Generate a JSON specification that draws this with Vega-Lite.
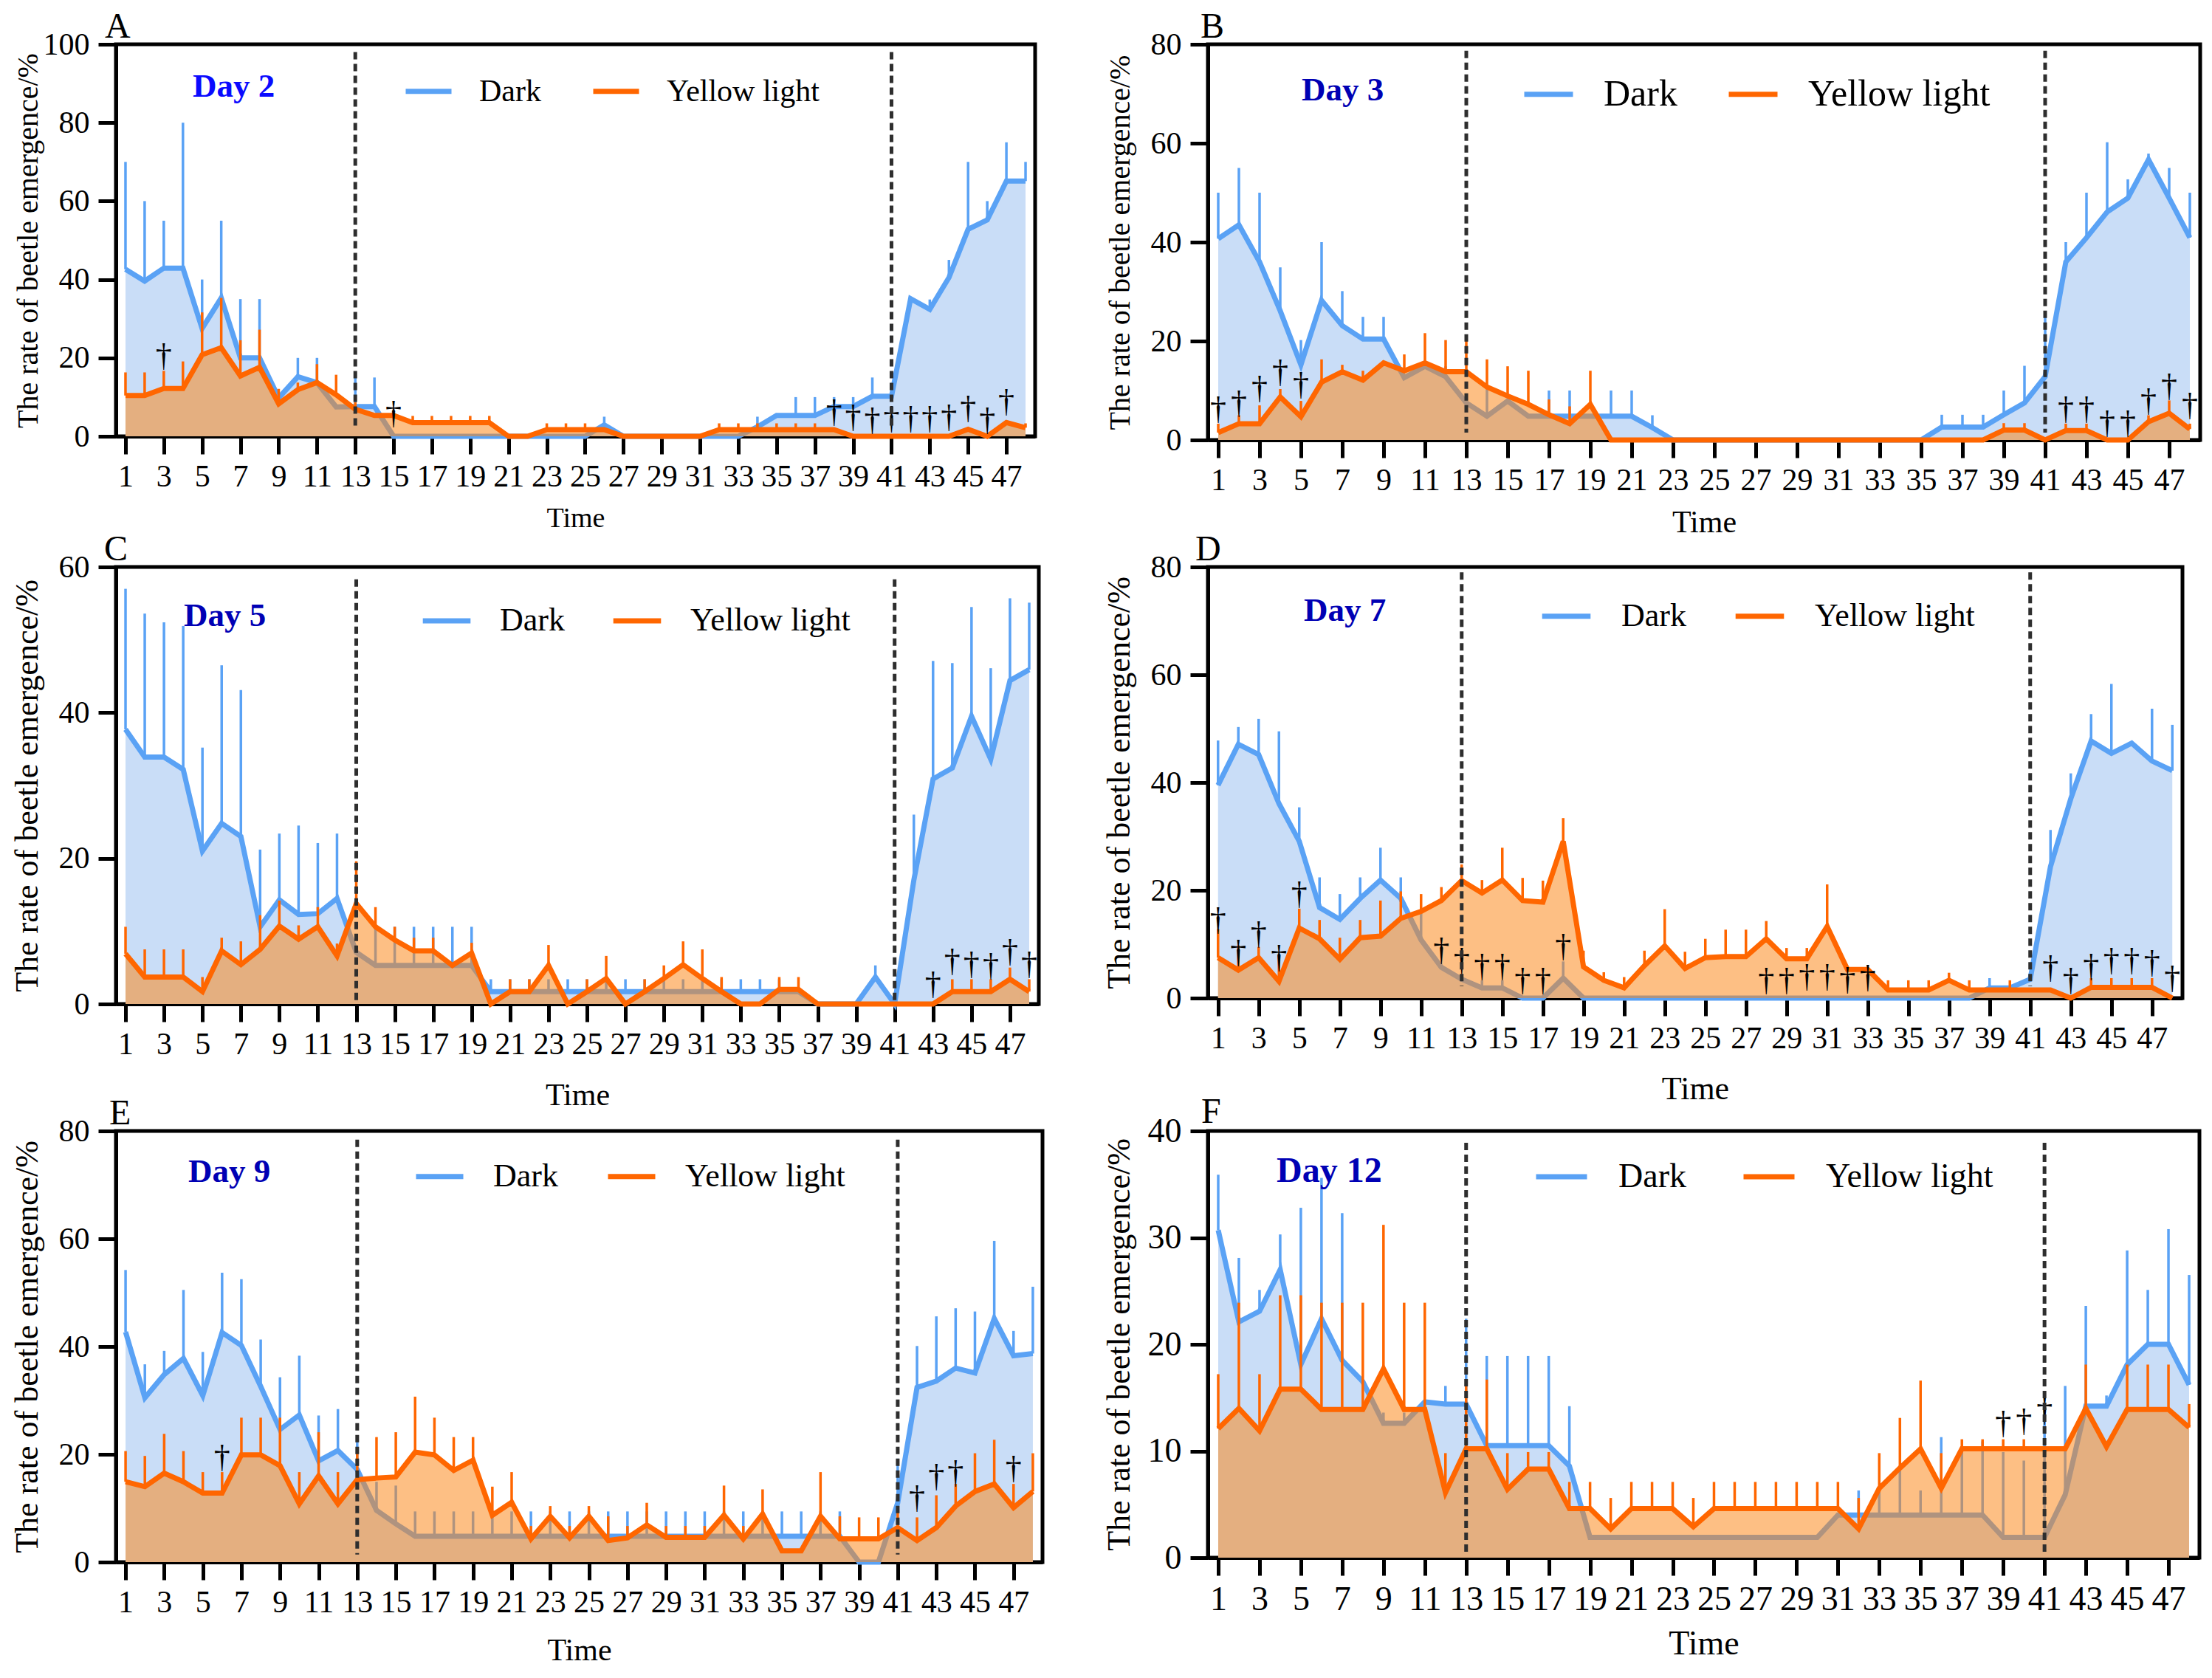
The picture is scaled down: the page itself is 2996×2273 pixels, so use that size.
{
  "$schema": "https://vega.github.io/schema/vega-lite/v6.json",
  "background": "white",
  "padding": {"left": 12, "top": 10, "right": 5, "bottom": 0},
  "config": {
    "font": "Liberation Serif",
    "view": {"stroke": "black", "strokeWidth": 5},
    "axis": {"domainColor": "black", "domainWidth": 5, "tickColor": "black", "tickWidth": 5, "tickSize": 24, "labelFont": "Liberation Serif", "labelFontSize": 42, "labelColor": "black", "titleFont": "Liberation Serif", "titleFontWeight": "normal", "titleColor": "black", "grid": false, "labelFlush": false, "labelOverlap": false},
    "axisX": {"labelPadding": 10, "titleBaseline": "alphabetic", "titleFontSize": 42},
    "axisY": {"labelPadding": 12, "titleX": -107, "titleAngle": 270, "titleAlign": "center", "titleBaseline": "alphabetic", "titleFontSize": 44},
    "legend": {"orient": "none", "direction": "horizontal", "titleOrient": "left", "titleFont": "Liberation Serif", "titleFontWeight": "bold", "titleFontSize": 45, "titleColor": "#0000b4", "titleBaseline": "middle", "titleAnchor": "middle", "titleLimit": 0, "symbolType": "stroke", "symbolStrokeWidth": 7, "labelFont": "Liberation Serif", "labelColor": "black", "labelLimit": 0, "labelBaseline": "middle", "padding": 0},
    "title": {"anchor": "start", "frame": "group", "offset": -22, "baseline": "alphabetic", "fontSize": 48, "font": "Liberation Serif", "fontWeight": "normal", "color": "black"}
  },
  "datasets": {
    "A": [
      {"t":1,"d":42.6,"de":70,"y":10.4,"ye":16.3},{"t":2,"d":39.6,"de":60,"y":10.4,"ye":16.3},{"t":3,"d":42.9,"de":55,"y":12.2,"ye":16.7},{"t":4,"d":42.9,"de":80,"y":12.2,"ye":19.1},
      {"t":5,"d":27.5,"de":40,"y":20.8,"ye":31.6},{"t":6,"d":35.3,"de":55,"y":22.6,"ye":35.3},{"t":7,"d":20,"de":35,"y":15.4,"ye":24.5},{"t":8,"d":20,"de":35,"y":17.6,"ye":27.2},
      {"t":9,"d":9.8,"de":null,"y":8.3,"ye":12.1},{"t":10,"d":15.2,"de":20,"y":11.9,"ye":13.7},{"t":11,"d":13.7,"de":20,"y":13.7,"ye":18.4},{"t":12,"d":7.5,"de":null,"y":10.6,"ye":15.7},
      {"t":13,"d":7.6,"de":15,"y":6.9,"ye":8.7},{"t":14,"d":7.6,"de":15,"y":5.3,"ye":null},{"t":15,"d":0,"de":null,"y":5.3,"ye":null},{"t":16,"d":0,"de":null,"y":3.5,"ye":5.2},
      {"t":17,"d":0,"de":null,"y":3.5,"ye":5.2},{"t":18,"d":0,"de":null,"y":3.5,"ye":5.2},{"t":19,"d":0,"de":null,"y":3.5,"ye":5.2},{"t":20,"d":0,"de":null,"y":3.5,"ye":5.2},
      {"t":21,"d":0,"de":null,"y":0,"ye":null},{"t":22,"d":0,"de":null,"y":0,"ye":null},{"t":23,"d":0,"de":null,"y":1.7,"ye":3.3},{"t":24,"d":0,"de":null,"y":1.7,"ye":3.3},
      {"t":25,"d":0,"de":null,"y":1.7,"ye":3.3},{"t":26,"d":2.9,"de":5,"y":1.7,"ye":null},{"t":27,"d":0,"de":null,"y":0,"ye":null},{"t":28,"d":0,"de":null,"y":0,"ye":null},
      {"t":29,"d":0,"de":null,"y":0,"ye":null},{"t":30,"d":0,"de":null,"y":0,"ye":null},{"t":31,"d":0,"de":null,"y":0,"ye":null},{"t":32,"d":0,"de":null,"y":1.7,"ye":3.3},
      {"t":33,"d":0,"de":null,"y":1.7,"ye":3.3},{"t":34,"d":2.4,"de":5,"y":1.7,"ye":3.3},{"t":35,"d":5.3,"de":null,"y":1.7,"ye":3.3},{"t":36,"d":5.3,"de":10,"y":1.7,"ye":3.3},
      {"t":37,"d":5.3,"de":10,"y":1.7,"ye":3.3},{"t":38,"d":7.6,"de":10,"y":1.7,"ye":null},{"t":39,"d":7.6,"de":10,"y":0,"ye":null},{"t":40,"d":10.2,"de":15,"y":0,"ye":null},
      {"t":41,"d":10.2,"de":null,"y":0,"ye":null},{"t":42,"d":35.1,"de":null,"y":0,"ye":null},{"t":43,"d":32.4,"de":34.9,"y":0,"ye":null},{"t":44,"d":40.5,"de":45,"y":0,"ye":null},
      {"t":45,"d":52.8,"de":70,"y":1.8,"ye":null},{"t":46,"d":55.2,"de":60,"y":0,"ye":null},{"t":47,"d":65.1,"de":75,"y":3.5,"ye":null},{"t":48,"d":65.1,"de":70,"y":2.2,"ye":3.3}
    ],
    "Adag": [{"t":3,"h":16.7},{"t":15,"h":2},{"t":38,"h":2.4},{"t":39,"h":1.1},{"t":40,"h":0.3},{"t":41,"h":0.7},{"t":42,"h":0.7},{"t":43,"h":0.7},{"t":44,"h":1.1},{"t":45,"h":3.3},{"t":46,"h":0.3},{"t":47,"h":5}],
    "B": [
      {"t":1,"d":40.7,"de":50,"y":1.5,"ye":3.3},{"t":2,"d":43.5,"de":55,"y":3.3,"ye":5},{"t":3,"d":36,"de":50,"y":3.3,"ye":7},{"t":4,"d":26.1,"de":34.9,"y":8.7,"ye":10.3},
      {"t":5,"d":15.2,"de":20.2,"y":4.7,"ye":7.9},{"t":6,"d":28.2,"de":40,"y":11.7,"ye":16.3},{"t":7,"d":23.1,"de":30.1,"y":13.8,"ye":15.2},{"t":8,"d":20.4,"de":24.9,"y":12.1,"ye":14},
      {"t":9,"d":20.4,"de":24.9,"y":15.6,"ye":null},{"t":10,"d":12.6,"de":null,"y":14,"ye":17.3},{"t":11,"d":14.9,"de":null,"y":15.6,"ye":21.6},{"t":12,"d":12.8,"de":14.9,"y":13.8,"ye":20.2},
      {"t":13,"d":7.5,"de":null,"y":13.8,"ye":20.2},{"t":14,"d":4.8,"de":10.3,"y":10.7,"ye":16.3},{"t":15,"d":7.9,"de":null,"y":8.9,"ye":14.9},{"t":16,"d":4.8,"de":null,"y":7.2,"ye":14},
      {"t":17,"d":4.8,"de":10,"y":5.1,"ye":8.2},{"t":18,"d":4.8,"de":10,"y":3.3,"ye":6.8},{"t":19,"d":4.8,"de":null,"y":7.2,"ye":14},{"t":20,"d":4.8,"de":10,"y":0,"ye":null},
      {"t":21,"d":4.8,"de":10,"y":0,"ye":null},{"t":22,"d":2.5,"de":5,"y":0,"ye":null},{"t":23,"d":0,"de":null,"y":0,"ye":null},{"t":24,"d":0,"de":null,"y":0,"ye":null},
      {"t":25,"d":0,"de":null,"y":0,"ye":null},{"t":26,"d":0,"de":null,"y":0,"ye":null},{"t":27,"d":0,"de":null,"y":0,"ye":null},{"t":28,"d":0,"de":null,"y":0,"ye":null},
      {"t":29,"d":0,"de":null,"y":0,"ye":null},{"t":30,"d":0,"de":null,"y":0,"ye":null},{"t":31,"d":0,"de":null,"y":0,"ye":null},{"t":32,"d":0,"de":null,"y":0,"ye":null},
      {"t":33,"d":0,"de":null,"y":0,"ye":null},{"t":34,"d":0,"de":null,"y":0,"ye":null},{"t":35,"d":0,"de":null,"y":0,"ye":null},{"t":36,"d":2.6,"de":5.1,"y":0,"ye":null},
      {"t":37,"d":2.6,"de":5.1,"y":0,"ye":null},{"t":38,"d":2.6,"de":5.1,"y":0,"ye":null},{"t":39,"d":5.1,"de":10,"y":2,"ye":3.4},{"t":40,"d":7.5,"de":15,"y":2,"ye":3.4},
      {"t":41,"d":12.8,"de":25,"y":0,"ye":null},{"t":42,"d":36,"de":40,"y":1.9,"ye":3.3},{"t":43,"d":40.9,"de":50,"y":1.9,"ye":3.3},{"t":44,"d":46.1,"de":60.2,"y":0,"ye":null},
      {"t":45,"d":48.9,"de":52.7,"y":0,"ye":null},{"t":46,"d":56.7,"de":57.9,"y":3.7,"ye":5},{"t":47,"d":48.9,"de":55,"y":5.4,"ye":8},{"t":48,"d":40.9,"de":50,"y":2.2,"ye":3.3}
    ],
    "Bdag": [{"t":1,"h":3.3},{"t":2,"h":4.5},{"t":3,"h":7.5},{"t":4,"h":10.7},{"t":5,"h":8.2},{"t":42,"h":3.3},{"t":43,"h":3.3},{"t":44,"h":0.5},{"t":45,"h":0.5},{"t":46,"h":5},{"t":47,"h":7.9},{"t":48,"h":4.1}],
    "C": [
      {"t":1,"d":37.7,"de":57,"y":6.9,"ye":10.6},{"t":2,"d":33.9,"de":53.6,"y":3.7,"ye":7.5},{"t":3,"d":33.9,"de":52.4,"y":3.7,"ye":7.5},{"t":4,"d":32.2,"de":51.9,"y":3.7,"ye":7.5},
      {"t":5,"d":21,"de":35.2,"y":1.7,"ye":3.7},{"t":6,"d":24.8,"de":46.5,"y":7.3,"ye":9.1},{"t":7,"d":23,"de":43.1,"y":5.4,"ye":8.6},{"t":8,"d":10.6,"de":21.2,"y":7.5,"ye":12.2},
      {"t":9,"d":14.3,"de":23.4,"y":10.7,"ye":14.2},{"t":10,"d":12.3,"de":24.5,"y":8.9,"ye":10.8},{"t":11,"d":12.4,"de":22.1,"y":10.6,"ye":13.3},{"t":12,"d":14.5,"de":23.4,"y":6.6,"ye":8.3},
      {"t":13,"d":7.1,"de":null,"y":13.8,"ye":19.6},{"t":14,"d":5.3,"de":10.6,"y":10.6,"ye":13.3},{"t":15,"d":5.3,"de":10.6,"y":8.8,"ye":10.6},{"t":16,"d":5.3,"de":10.6,"y":7.3,"ye":9.1},
      {"t":17,"d":5.3,"de":10.6,"y":7.3,"ye":9.1},{"t":18,"d":5.3,"de":10.6,"y":5.3,"ye":null},{"t":19,"d":5.3,"de":10.6,"y":7,"ye":8.4},{"t":20,"d":1.7,"de":3.4,"y":0,"ye":null},
      {"t":21,"d":1.7,"de":3.4,"y":1.7,"ye":3.4},{"t":22,"d":1.7,"de":3.4,"y":1.7,"ye":3.4},{"t":23,"d":1.7,"de":3.4,"y":5.3,"ye":8.1},{"t":24,"d":1.7,"de":3.4,"y":0,"ye":null},
      {"t":25,"d":1.7,"de":3.4,"y":1.7,"ye":3.4},{"t":26,"d":1.7,"de":3.4,"y":3.5,"ye":6.6},{"t":27,"d":1.7,"de":3.4,"y":0,"ye":null},{"t":28,"d":1.7,"de":3.4,"y":1.7,"ye":3.4},
      {"t":29,"d":1.7,"de":3.4,"y":3.5,"ye":5.3},{"t":30,"d":1.7,"de":3.4,"y":5.4,"ye":8.6},{"t":31,"d":1.7,"de":3.4,"y":3.5,"ye":7.5},{"t":32,"d":1.7,"de":3.4,"y":1.7,"ye":3.7},
      {"t":33,"d":1.7,"de":3.4,"y":0,"ye":null},{"t":34,"d":1.7,"de":3.4,"y":0,"ye":null},{"t":35,"d":1.7,"de":3.4,"y":2,"ye":3.7},{"t":36,"d":1.7,"de":null,"y":2,"ye":3.7},
      {"t":37,"d":0,"de":null,"y":0,"ye":null},{"t":38,"d":0,"de":null,"y":0,"ye":null},{"t":39,"d":0,"de":null,"y":0,"ye":null},{"t":40,"d":3.7,"de":5.3,"y":0,"ye":null},
      {"t":41,"d":0,"de":null,"y":0,"ye":null},{"t":42,"d":17,"de":26,"y":0,"ye":null},{"t":43,"d":30.9,"de":47.1,"y":0,"ye":null},{"t":44,"d":32.4,"de":46.8,"y":1.7,"ye":3.4},
      {"t":45,"d":39.5,"de":54.5,"y":1.7,"ye":3.4},{"t":46,"d":33.6,"de":46.1,"y":1.7,"ye":3.4},{"t":47,"d":44.4,"de":55.7,"y":3.4,"ye":5},{"t":48,"d":45.9,"de":55.1,"y":1.7,"ye":3.4}
    ],
    "Cdag": [{"t":43,"h":0.7},{"t":44,"h":3.9},{"t":45,"h":3.4},{"t":46,"h":3.2},{"t":47,"h":5.2},{"t":48,"h":3.4}],
    "D": [
      {"t":1,"d":39.5,"de":47.8,"y":7.5,"ye":12.8},{"t":2,"d":47.1,"de":50.3,"y":5.2,"ye":9.8},{"t":3,"d":45.2,"de":51.8,"y":7.5,"ye":9.5},{"t":4,"d":36.1,"de":49.5,"y":3.1,"ye":7.8},
      {"t":5,"d":29.1,"de":35.4,"y":13,"ye":16.6},{"t":6,"d":16.8,"de":22.4,"y":11,"ye":14.5},{"t":7,"d":14.6,"de":19.3,"y":7.2,"ye":11.2},{"t":8,"d":18.5,"de":22.4,"y":11.2,"ye":14.5},
      {"t":9,"d":21.9,"de":27.9,"y":11.5,"ye":18.1},{"t":10,"d":18.5,"de":22.4,"y":14.8,"ye":19.8},{"t":11,"d":10.8,"de":15.8,"y":16.1,"ye":19.3},{"t":12,"d":5.7,"de":null,"y":18.1,"ye":20.6},
      {"t":13,"d":3.5,"de":null,"y":21.8,"ye":24.8},{"t":14,"d":1.9,"de":3.3,"y":19.5,"ye":21.9},{"t":15,"d":1.9,"de":3.3,"y":21.9,"ye":27.9},{"t":16,"d":0,"de":null,"y":18.1,"ye":22.3},
      {"t":17,"d":0,"de":null,"y":17.8,"ye":21.8},{"t":18,"d":3.7,"de":6.8,"y":29.1,"ye":33.4},{"t":19,"d":0,"de":null,"y":5.8,"ye":8.8},{"t":20,"d":0,"de":null,"y":3.3,"ye":4.8},
      {"t":21,"d":0,"de":null,"y":1.9,"ye":3.9},{"t":22,"d":0,"de":null,"y":6,"ye":8.8},{"t":23,"d":0,"de":null,"y":9.7,"ye":16.5},{"t":24,"d":0,"de":null,"y":5.5,"ye":8.6},
      {"t":25,"d":0,"de":null,"y":7.5,"ye":11},{"t":26,"d":0,"de":null,"y":7.7,"ye":12.7},{"t":27,"d":0,"de":null,"y":7.7,"ye":12.7},{"t":28,"d":0,"de":null,"y":11,"ye":14.3},
      {"t":29,"d":0,"de":null,"y":7.3,"ye":9.3},{"t":30,"d":0,"de":null,"y":7.3,"ye":9.3},{"t":31,"d":0,"de":null,"y":13.3,"ye":21.1},{"t":32,"d":0,"de":null,"y":5.3,"ye":null},
      {"t":33,"d":0,"de":null,"y":5.3,"ye":null},{"t":34,"d":0,"de":null,"y":1.5,"ye":3.3},{"t":35,"d":0,"de":null,"y":1.5,"ye":3.3},{"t":36,"d":0,"de":null,"y":1.5,"ye":3.3},
      {"t":37,"d":0,"de":null,"y":3.3,"ye":4.7},{"t":38,"d":0,"de":null,"y":1.5,"ye":3.3},{"t":39,"d":1.9,"de":3.7,"y":1.5,"ye":null},{"t":40,"d":1.9,"de":null,"y":1.5,"ye":3.3},
      {"t":41,"d":3.5,"de":null,"y":1.5,"ye":null},{"t":42,"d":24.4,"de":31.2,"y":1.5,"ye":null},{"t":43,"d":37,"de":41.7,"y":0,"ye":null},{"t":44,"d":47.7,"de":52.7,"y":2,"ye":3.7},
      {"t":45,"d":45.4,"de":58.3,"y":2,"ye":3.7},{"t":46,"d":47.3,"de":null,"y":2,"ye":3.7},{"t":47,"d":44,"de":53.7,"y":2,"ye":3.7},{"t":48,"d":42.2,"de":50.7,"y":0,"ye":null}
    ],
    "Ddag": [{"t":1,"h":11.8},{"t":2,"h":5.8},{"t":3,"h":9.2},{"t":4,"h":4.8},{"t":5,"h":16.6},{"t":12,"h":6.2},{"t":13,"h":4.2},{"t":14,"h":3.1},{"t":15,"h":3.1},{"t":16,"h":0.5},{"t":17,"h":0.5},{"t":18,"h":6.8},{"t":28,"h":0.5},{"t":29,"h":0.5},{"t":30,"h":1.2},{"t":31,"h":1.2},{"t":32,"h":0.7},{"t":33,"h":1.1},{"t":42,"h":2.9},{"t":43,"h":0.5},{"t":44,"h":3.2},{"t":45,"h":4.2},{"t":46,"h":4.2},{"t":47,"h":3.9},{"t":48,"h":0.9}],
    "E": [
      {"t":1,"d":42.7,"de":54.2,"y":14.9,"ye":20.6},{"t":2,"d":30.5,"de":36.7,"y":14,"ye":19.7},{"t":3,"d":34.8,"de":39.2,"y":16.5,"ye":23.8},{"t":4,"d":37.8,"de":50.5,"y":14.9,"ye":20.6},
      {"t":5,"d":30.9,"de":39,"y":12.8,"ye":16.7},{"t":6,"d":42.6,"de":53.7,"y":12.8,"ye":16.7},{"t":7,"d":40.2,"de":52.5,"y":19.9,"ye":26.8},{"t":8,"d":32.6,"de":41.3,"y":19.9,"ye":26.8},
      {"t":9,"d":24.6,"de":34.3,"y":17.9,"ye":26.8},{"t":10,"d":27.3,"de":38.3,"y":10.8,"ye":16.7},{"t":11,"d":18.8,"de":27.2,"y":16,"ye":24.1},{"t":12,"d":20.7,"de":28.4,"y":10.8,"ye":16.7},
      {"t":13,"d":17.2,"de":22.5,"y":15.3,"ye":20.2},{"t":14,"d":9.6,"de":14.9,"y":15.6,"ye":23.2},{"t":15,"d":7.1,"de":14.2,"y":15.8,"ye":24.1},{"t":16,"d":4.8,"de":9.4,"y":20.4,"ye":30.7},
      {"t":17,"d":4.8,"de":9.4,"y":19.9,"ye":26.8},{"t":18,"d":4.8,"de":9.4,"y":17,"ye":23.2},{"t":19,"d":4.8,"de":9.4,"y":18.9,"ye":23.2},{"t":20,"d":4.8,"de":9.4,"y":8.7,"ye":14},
      {"t":21,"d":4.8,"de":9.4,"y":11.1,"ye":16.7},{"t":22,"d":4.8,"de":9.4,"y":4.3,"ye":6.7},{"t":23,"d":4.8,"de":9.4,"y":8.5,"ye":10.4},{"t":24,"d":4.8,"de":9.4,"y":4.5,"ye":6.7},
      {"t":25,"d":4.8,"de":9.4,"y":8.5,"ye":10.4},{"t":26,"d":4.8,"de":9.4,"y":4,"ye":8.5},{"t":27,"d":4.8,"de":9.4,"y":4.5,"ye":6.7},{"t":28,"d":4.8,"de":9.4,"y":6.9,"ye":11},
      {"t":29,"d":4.8,"de":9.4,"y":4.6,"ye":6.7},{"t":30,"d":4.8,"de":9.4,"y":4.6,"ye":6.7},{"t":31,"d":4.8,"de":9.4,"y":4.6,"ye":6.7},{"t":32,"d":4.8,"de":9.4,"y":8.7,"ye":14.2},
      {"t":33,"d":4.8,"de":9.4,"y":4.3,"ye":6.7},{"t":34,"d":4.8,"de":9.4,"y":8.9,"ye":13.5},{"t":35,"d":4.8,"de":9.4,"y":2.1,"ye":null},{"t":36,"d":4.8,"de":9.4,"y":2.1,"ye":null},
      {"t":37,"d":4.8,"de":9.4,"y":8.5,"ye":16.7},{"t":38,"d":4.8,"de":9.4,"y":4.3,"ye":8.5},{"t":39,"d":0,"de":null,"y":4.3,"ye":8.3},{"t":40,"d":0,"de":null,"y":4.3,"ye":8.3},
      {"t":41,"d":11,"de":19.2,"y":6.4,"ye":10},{"t":42,"d":32.4,"de":40.1,"y":4,"ye":8.3},{"t":43,"d":33.6,"de":45.6,"y":6.4,"ye":12.4},{"t":44,"d":36,"de":47.1,"y":10.4,"ye":14.5},
      {"t":45,"d":35.1,"de":46.5,"y":13.1,"ye":20.2},{"t":46,"d":45.2,"de":59.6,"y":14.5,"ye":22.7},{"t":47,"d":38.3,"de":42.9,"y":10.1,"ye":14.5},{"t":48,"d":38.7,"de":51.1,"y":13.1,"ye":20.2}
    ],
    "Edag": [{"t":6,"h":16.7},{"t":42,"h":9.2},{"t":43,"h":13.1},{"t":44,"h":13.8},{"t":47,"h":14.7}],
    "F": [
      {"t":1,"d":30.7,"de":35.9,"y":12.1,"ye":17.2},{"t":2,"d":22.1,"de":28.1,"y":14,"ye":23.9},{"t":3,"d":23.1,"de":25.1,"y":11.9,"ye":17.2},{"t":4,"d":27,"de":30.3,"y":15.8,"ye":24.6},
      {"t":5,"d":18.1,"de":32.8,"y":15.8,"ye":24.6},{"t":6,"d":22.4,"de":35.6,"y":13.9,"ye":23.9},{"t":7,"d":18.5,"de":32.3,"y":13.9,"ye":23.9},{"t":8,"d":16.5,"de":null,"y":13.9,"ye":23.9},
      {"t":9,"d":12.6,"de":13.6,"y":17.7,"ye":31.2},{"t":10,"d":12.6,"de":13.6,"y":13.9,"ye":23.9},{"t":11,"d":14.6,"de":null,"y":13.9,"ye":23.9},{"t":12,"d":14.4,"de":16.1,"y":6.1,"ye":9.8},
      {"t":13,"d":14.4,"de":22.4,"y":10.2,"ye":16.3},{"t":14,"d":10.5,"de":18.9,"y":10.2,"ye":16.7},{"t":15,"d":10.5,"de":18.9,"y":6.4,"ye":9.8},{"t":16,"d":10.5,"de":18.9,"y":8.3,"ye":9.9},
      {"t":17,"d":10.5,"de":18.9,"y":8.3,"ye":9.9},{"t":18,"d":8.6,"de":14.2,"y":4.6,"ye":7.1},{"t":19,"d":1.9,"de":null,"y":4.6,"ye":7.1},{"t":20,"d":1.9,"de":null,"y":2.7,"ye":5.6},
      {"t":21,"d":1.9,"de":null,"y":4.6,"ye":7.1},{"t":22,"d":1.9,"de":null,"y":4.6,"ye":7.1},{"t":23,"d":1.9,"de":null,"y":4.6,"ye":7.1},{"t":24,"d":1.9,"de":null,"y":2.9,"ye":5.6},
      {"t":25,"d":1.9,"de":null,"y":4.6,"ye":7.1},{"t":26,"d":1.9,"de":null,"y":4.6,"ye":7.1},{"t":27,"d":1.9,"de":null,"y":4.6,"ye":7.1},{"t":28,"d":1.9,"de":null,"y":4.6,"ye":7.1},
      {"t":29,"d":1.9,"de":null,"y":4.6,"ye":7.1},{"t":30,"d":1.9,"de":null,"y":4.6,"ye":7.1},{"t":31,"d":4,"de":null,"y":4.6,"ye":7.1},{"t":32,"d":4,"de":6.3,"y":2.7,"ye":5.6},
      {"t":33,"d":4,"de":6.3,"y":6.5,"ye":9.8},{"t":34,"d":4,"de":8.2,"y":8.4,"ye":13.1},{"t":35,"d":4,"de":6.3,"y":10.2,"ye":16.6},{"t":36,"d":4,"de":11.3,"y":6.5,"ye":9.8},
      {"t":37,"d":4,"de":9.9,"y":10.2,"ye":11.1},{"t":38,"d":4,"de":10.9,"y":10.2,"ye":11.1},{"t":39,"d":1.9,"de":9.9,"y":10.2,"ye":11.1},{"t":40,"d":1.9,"de":9.1,"y":10.2,"ye":11.1},
      {"t":41,"d":1.9,"de":13.8,"y":10.2,"ye":null},{"t":42,"d":5.9,"de":16.1,"y":10.2,"ye":null},{"t":43,"d":14.2,"de":23.6,"y":14,"ye":18.1},{"t":44,"d":14.2,"de":15.2,"y":10.4,"ye":null},
      {"t":45,"d":18.1,"de":28.8,"y":13.9,"ye":18.1},{"t":46,"d":20,"de":25.1,"y":13.9,"ye":18.1},{"t":47,"d":20,"de":30.8,"y":13.9,"ye":18.1},{"t":48,"d":16.2,"de":26.5,"y":12.2,"ye":14.4}
    ],
    "Fdag": [{"t":39,"h":11.2},{"t":40,"h":11.4},{"t":41,"h":12.4}]
  },
  "columns": 2,
  "spacing": {"row": 172, "column": 224},
  "bounds": "flush",
  "align": "each",
  "resolve": {"scale": {"color": "independent"}, "legend": {"color": "independent"}},
  "concat": [
    {
      "width": 1245, "height": 531,
      "title": {"text": "A", "dx": -15},
      "data": {"name": "A"},
      "layer": [
        {"mark": {"type": "area", "color": "#c9ddf7"},
         "encoding": {
           "x": {"field": "t", "type": "quantitative", "title": "Time", "scale": {"domain": [0.5, 48.5], "nice": false, "zero": false}, "axis": {"values": [1,3,5,7,9,11,13,15,17,19,21,23,25,27,29,31,33,35,37,39,41,43,45,47], "titleY": 122, "titleFontSize": 38}},
           "y": {"field": "d", "type": "quantitative", "title": "The rate of beetle emergence/%", "scale": {"domain": [0, 100], "nice": false}, "axis": {"values": [0,20,40,60,80,100], "titleY": 265.5, "titleFontSize": 40}}}},
        {"transform": [{"filter": "datum.de != null"}], "mark": {"type": "rule", "color": "#5aa2f5", "strokeWidth": 3.5},
         "encoding": {"x": {"field": "t", "type": "quantitative", "title": "Time"}, "y": {"field": "d", "type": "quantitative", "title": "The rate of beetle emergence/%"}, "y2": {"field": "de"}}},
        {"mark": {"type": "line", "strokeWidth": 7},
         "encoding": {"x": {"field": "t", "type": "quantitative", "title": "Time"}, "y": {"field": "d", "type": "quantitative", "title": "The rate of beetle emergence/%"},
           "color": {"datum": "Dark", "scale": {"domain": ["Dark", "Yellow light"], "range": ["#5aa2f5", "#ff6600"]},
             "legend": {"title": "Day 2", "legendX": 104, "legendY": 29, "titleColor": "#0a0aff", "titlePadding": 173, "symbolSize": 3844, "labelFontSize": 42, "labelOffset": 34, "columnPadding": 56}}}},
        {"mark": {"type": "area", "color": "#fb8716", "opacity": 0.53},
         "encoding": {"x": {"field": "t", "type": "quantitative", "title": "Time"}, "y": {"field": "y", "type": "quantitative", "title": "The rate of beetle emergence/%"}}},
        {"transform": [{"filter": "datum.ye != null"}], "mark": {"type": "rule", "color": "#ff6600", "strokeWidth": 3.5},
         "encoding": {"x": {"field": "t", "type": "quantitative", "title": "Time"}, "y": {"field": "y", "type": "quantitative", "title": "The rate of beetle emergence/%"}, "y2": {"field": "ye"}}},
        {"mark": {"type": "line", "strokeWidth": 7},
         "encoding": {"x": {"field": "t", "type": "quantitative", "title": "Time"}, "y": {"field": "y", "type": "quantitative", "title": "The rate of beetle emergence/%"}, "color": {"datum": "Yellow light"}}},
        {"data": {"name": "Adag"}, "mark": {"type": "text", "text": "†", "fontSize": 44, "font": "Liberation Serif", "baseline": "alphabetic", "dy": -6, "color": "black"},
         "encoding": {"x": {"field": "t", "type": "quantitative", "title": "Time"}, "y": {"field": "h", "type": "quantitative", "title": "The rate of beetle emergence/%"}}},
        {"data": {"values": [{"t": 13}, {"t": 41}]}, "mark": {"type": "rule", "color": "#2e2e2e", "strokeWidth": 5, "strokeDash": [10, 6]},
         "encoding": {"x": {"field": "t", "type": "quantitative", "title": "Time"}, "y": {"datum": 98, "title": "The rate of beetle emergence/%"}, "y2": {"datum": 2}}}
      ]
    },
    {
      "width": 1344, "height": 536,
      "title": {"text": "B", "dx": -10},
      "data": {"name": "B"},
      "layer": [
        {"mark": {"type": "area", "color": "#c9ddf7"},
         "encoding": {
           "x": {"field": "t", "type": "quantitative", "title": "Time", "scale": {"domain": [0.5, 48.5], "nice": false, "zero": false}, "axis": {"values": [1,3,5,7,9,11,13,15,17,19,21,23,25,27,29,31,33,35,37,39,41,43,45,47], "titleY": 124, "titleFontSize": 42}},
           "y": {"field": "d", "type": "quantitative", "title": "The rate of beetle emergence/%", "scale": {"domain": [0, 80], "nice": false}, "axis": {"values": [0,20,40,60,80], "titleY": 268, "titleFontSize": 40}}}},
        {"transform": [{"filter": "datum.de != null"}], "mark": {"type": "rule", "color": "#5aa2f5", "strokeWidth": 3.5},
         "encoding": {"x": {"field": "t", "type": "quantitative", "title": "Time"}, "y": {"field": "d", "type": "quantitative", "title": "The rate of beetle emergence/%"}, "y2": {"field": "de"}}},
        {"mark": {"type": "line", "strokeWidth": 7},
         "encoding": {"x": {"field": "t", "type": "quantitative", "title": "Time"}, "y": {"field": "d", "type": "quantitative", "title": "The rate of beetle emergence/%"},
           "color": {"datum": "Dark", "scale": {"domain": ["Dark", "Yellow light"], "range": ["#5aa2f5", "#ff6600"]},
             "legend": {"title": "Day 3", "legendX": 127, "legendY": 31, "titlePadding": 186, "symbolSize": 4356, "labelFontSize": 50, "labelOffset": 38, "columnPadding": 55}}}},
        {"mark": {"type": "area", "color": "#fb8716", "opacity": 0.53},
         "encoding": {"x": {"field": "t", "type": "quantitative", "title": "Time"}, "y": {"field": "y", "type": "quantitative", "title": "The rate of beetle emergence/%"}}},
        {"transform": [{"filter": "datum.ye != null"}], "mark": {"type": "rule", "color": "#ff6600", "strokeWidth": 3.5},
         "encoding": {"x": {"field": "t", "type": "quantitative", "title": "Time"}, "y": {"field": "y", "type": "quantitative", "title": "The rate of beetle emergence/%"}, "y2": {"field": "ye"}}},
        {"mark": {"type": "line", "strokeWidth": 7},
         "encoding": {"x": {"field": "t", "type": "quantitative", "title": "Time"}, "y": {"field": "y", "type": "quantitative", "title": "The rate of beetle emergence/%"}, "color": {"datum": "Yellow light"}}},
        {"data": {"name": "Bdag"}, "mark": {"type": "text", "text": "†", "fontSize": 44, "font": "Liberation Serif", "baseline": "alphabetic", "dy": -6, "color": "black"},
         "encoding": {"x": {"field": "t", "type": "quantitative", "title": "Time"}, "y": {"field": "h", "type": "quantitative", "title": "The rate of beetle emergence/%"}}},
        {"data": {"values": [{"t": 13}, {"t": 41}]}, "mark": {"type": "rule", "color": "#2e2e2e", "strokeWidth": 5, "strokeDash": [10, 6]},
         "encoding": {"x": {"field": "t", "type": "quantitative", "title": "Time"}, "y": {"datum": 78.7, "title": "The rate of beetle emergence/%"}, "y2": {"datum": 1.5}}}
      ]
    },
    {
      "width": 1250, "height": 592,
      "title": {"text": "C", "dx": -16},
      "data": {"name": "C"},
      "layer": [
        {"mark": {"type": "area", "color": "#c9ddf7"},
         "encoding": {
           "x": {"field": "t", "type": "quantitative", "title": "Time", "scale": {"domain": [0.5, 48.5], "nice": false, "zero": false}, "axis": {"values": [1,3,5,7,9,11,13,15,17,19,21,23,25,27,29,31,33,35,37,39,41,43,45,47], "titleY": 136, "titleFontSize": 42}},
           "y": {"field": "d", "type": "quantitative", "title": "The rate of beetle emergence/%", "scale": {"domain": [0, 60], "nice": false}, "axis": {"values": [0,20,40,60], "titleY": 296}}}},
        {"transform": [{"filter": "datum.de != null"}], "mark": {"type": "rule", "color": "#5aa2f5", "strokeWidth": 3.5},
         "encoding": {"x": {"field": "t", "type": "quantitative", "title": "Time"}, "y": {"field": "d", "type": "quantitative", "title": "The rate of beetle emergence/%"}, "y2": {"field": "de"}}},
        {"mark": {"type": "line", "strokeWidth": 7},
         "encoding": {"x": {"field": "t", "type": "quantitative", "title": "Time"}, "y": {"field": "d", "type": "quantitative", "title": "The rate of beetle emergence/%"},
           "color": {"datum": "Dark", "scale": {"domain": ["Dark", "Yellow light"], "range": ["#5aa2f5", "#ff6600"]},
             "legend": {"title": "Day 5", "legendX": 92, "legendY": 37, "titlePadding": 208, "symbolSize": 4173, "labelFontSize": 44, "labelOffset": 36, "columnPadding": 51}}}},
        {"mark": {"type": "area", "color": "#fb8716", "opacity": 0.53},
         "encoding": {"x": {"field": "t", "type": "quantitative", "title": "Time"}, "y": {"field": "y", "type": "quantitative", "title": "The rate of beetle emergence/%"}}},
        {"transform": [{"filter": "datum.ye != null"}], "mark": {"type": "rule", "color": "#ff6600", "strokeWidth": 3.5},
         "encoding": {"x": {"field": "t", "type": "quantitative", "title": "Time"}, "y": {"field": "y", "type": "quantitative", "title": "The rate of beetle emergence/%"}, "y2": {"field": "ye"}}},
        {"mark": {"type": "line", "strokeWidth": 7},
         "encoding": {"x": {"field": "t", "type": "quantitative", "title": "Time"}, "y": {"field": "y", "type": "quantitative", "title": "The rate of beetle emergence/%"}, "color": {"datum": "Yellow light"}}},
        {"data": {"name": "Cdag"}, "mark": {"type": "text", "text": "†", "fontSize": 44, "font": "Liberation Serif", "baseline": "alphabetic", "dy": -6, "color": "black"},
         "encoding": {"x": {"field": "t", "type": "quantitative", "title": "Time"}, "y": {"field": "h", "type": "quantitative", "title": "The rate of beetle emergence/%"}}},
        {"data": {"values": [{"t": 13}, {"t": 41}]}, "mark": {"type": "rule", "color": "#2e2e2e", "strokeWidth": 5, "strokeDash": [10, 6]},
         "encoding": {"x": {"field": "t", "type": "quantitative", "title": "Time"}, "y": {"datum": 58.3, "title": "The rate of beetle emergence/%"}, "y2": {"datum": 0.5}}}
      ]
    },
    {
      "width": 1320, "height": 584,
      "title": {"text": "D", "dx": -17},
      "data": {"name": "D"},
      "layer": [
        {"mark": {"type": "area", "color": "#c9ddf7"},
         "encoding": {
           "x": {"field": "t", "type": "quantitative", "title": "Time", "scale": {"domain": [0.5, 48.5], "nice": false, "zero": false}, "axis": {"values": [1,3,5,7,9,11,13,15,17,19,21,23,25,27,29,31,33,35,37,39,41,43,45,47], "titleY": 136, "titleFontSize": 44}},
           "y": {"field": "d", "type": "quantitative", "title": "The rate of beetle emergence/%", "scale": {"domain": [0, 80], "nice": false}, "axis": {"values": [0,20,40,60,80], "titleY": 292}}}},
        {"transform": [{"filter": "datum.de != null"}], "mark": {"type": "rule", "color": "#5aa2f5", "strokeWidth": 3.5},
         "encoding": {"x": {"field": "t", "type": "quantitative", "title": "Time"}, "y": {"field": "d", "type": "quantitative", "title": "The rate of beetle emergence/%"}, "y2": {"field": "de"}}},
        {"mark": {"type": "line", "strokeWidth": 7},
         "encoding": {"x": {"field": "t", "type": "quantitative", "title": "Time"}, "y": {"field": "d", "type": "quantitative", "title": "The rate of beetle emergence/%"},
           "color": {"datum": "Dark", "scale": {"domain": ["Dark", "Yellow light"], "range": ["#5aa2f5", "#ff6600"]},
             "legend": {"title": "Day 7", "legendX": 130, "legendY": 30, "titlePadding": 207, "symbolSize": 4300, "labelFontSize": 44, "labelOffset": 38, "columnPadding": 52}}}},
        {"mark": {"type": "area", "color": "#fb8716", "opacity": 0.53},
         "encoding": {"x": {"field": "t", "type": "quantitative", "title": "Time"}, "y": {"field": "y", "type": "quantitative", "title": "The rate of beetle emergence/%"}}},
        {"transform": [{"filter": "datum.ye != null"}], "mark": {"type": "rule", "color": "#ff6600", "strokeWidth": 3.5},
         "encoding": {"x": {"field": "t", "type": "quantitative", "title": "Time"}, "y": {"field": "y", "type": "quantitative", "title": "The rate of beetle emergence/%"}, "y2": {"field": "ye"}}},
        {"mark": {"type": "line", "strokeWidth": 7},
         "encoding": {"x": {"field": "t", "type": "quantitative", "title": "Time"}, "y": {"field": "y", "type": "quantitative", "title": "The rate of beetle emergence/%"}, "color": {"datum": "Yellow light"}}},
        {"data": {"name": "Ddag"}, "mark": {"type": "text", "text": "†", "fontSize": 44, "font": "Liberation Serif", "baseline": "alphabetic", "dy": -6, "color": "black"},
         "encoding": {"x": {"field": "t", "type": "quantitative", "title": "Time"}, "y": {"field": "h", "type": "quantitative", "title": "The rate of beetle emergence/%"}}},
        {"data": {"values": [{"t": 13}, {"t": 41}]}, "mark": {"type": "rule", "color": "#2e2e2e", "strokeWidth": 5, "strokeDash": [10, 6]},
         "encoding": {"x": {"field": "t", "type": "quantitative", "title": "Time"}, "y": {"datum": 79, "title": "The rate of beetle emergence/%"}, "y2": {"datum": 2.2}}}
      ]
    },
    {
      "width": 1255, "height": 584,
      "title": {"text": "E", "dx": -9},
      "data": {"name": "E"},
      "layer": [
        {"mark": {"type": "area", "color": "#c9ddf7"},
         "encoding": {
           "x": {"field": "t", "type": "quantitative", "title": "Time", "scale": {"domain": [0.5, 48.5], "nice": false, "zero": false}, "axis": {"values": [1,3,5,7,9,11,13,15,17,19,21,23,25,27,29,31,33,35,37,39,41,43,45,47], "titleY": 132, "titleFontSize": 42}},
           "y": {"field": "d", "type": "quantitative", "title": "The rate of beetle emergence/%", "scale": {"domain": [0, 80], "nice": false}, "axis": {"values": [0,20,40,60,80], "titleY": 292}}}},
        {"transform": [{"filter": "datum.de != null"}], "mark": {"type": "rule", "color": "#5aa2f5", "strokeWidth": 3.5},
         "encoding": {"x": {"field": "t", "type": "quantitative", "title": "Time"}, "y": {"field": "d", "type": "quantitative", "title": "The rate of beetle emergence/%"}, "y2": {"field": "de"}}},
        {"mark": {"type": "line", "strokeWidth": 7},
         "encoding": {"x": {"field": "t", "type": "quantitative", "title": "Time"}, "y": {"field": "d", "type": "quantitative", "title": "The rate of beetle emergence/%"},
           "color": {"datum": "Dark", "scale": {"domain": ["Dark", "Yellow light"], "range": ["#5aa2f5", "#ff6600"]},
             "legend": {"title": "Day 9", "legendX": 98, "legendY": 26, "titlePadding": 193, "symbolSize": 4096, "labelFontSize": 44, "labelOffset": 37, "columnPadding": 53}}}},
        {"mark": {"type": "area", "color": "#fb8716", "opacity": 0.53},
         "encoding": {"x": {"field": "t", "type": "quantitative", "title": "Time"}, "y": {"field": "y", "type": "quantitative", "title": "The rate of beetle emergence/%"}}},
        {"transform": [{"filter": "datum.ye != null"}], "mark": {"type": "rule", "color": "#ff6600", "strokeWidth": 3.5},
         "encoding": {"x": {"field": "t", "type": "quantitative", "title": "Time"}, "y": {"field": "y", "type": "quantitative", "title": "The rate of beetle emergence/%"}, "y2": {"field": "ye"}}},
        {"mark": {"type": "line", "strokeWidth": 7},
         "encoding": {"x": {"field": "t", "type": "quantitative", "title": "Time"}, "y": {"field": "y", "type": "quantitative", "title": "The rate of beetle emergence/%"}, "color": {"datum": "Yellow light"}}},
        {"data": {"name": "Edag"}, "mark": {"type": "text", "text": "†", "fontSize": 44, "font": "Liberation Serif", "baseline": "alphabetic", "dy": -6, "color": "black"},
         "encoding": {"x": {"field": "t", "type": "quantitative", "title": "Time"}, "y": {"field": "h", "type": "quantitative", "title": "The rate of beetle emergence/%"}}},
        {"data": {"values": [{"t": 13}, {"t": 41}]}, "mark": {"type": "rule", "color": "#2e2e2e", "strokeWidth": 5, "strokeDash": [10, 6]},
         "encoding": {"x": {"field": "t", "type": "quantitative", "title": "Time"}, "y": {"datum": 78.4, "title": "The rate of beetle emergence/%"}, "y2": {"datum": 1.4}}}
      ]
    },
    {
      "width": 1343, "height": 578,
      "title": {"text": "F", "dx": -9},
      "data": {"name": "F"},
      "layer": [
        {"mark": {"type": "area", "color": "#c9ddf7"},
         "encoding": {
           "x": {"field": "t", "type": "quantitative", "title": "Time", "scale": {"domain": [0.5, 48.5], "nice": false, "zero": false}, "axis": {"values": [1,3,5,7,9,11,13,15,17,19,21,23,25,27,29,31,33,35,37,39,41,43,45,47], "titleY": 130, "titleFontSize": 46, "labelFontSize": 46}},
           "y": {"field": "d", "type": "quantitative", "title": "The rate of beetle emergence/%", "scale": {"domain": [0, 40], "nice": false}, "axis": {"values": [0,10,20,30,40], "titleY": 289, "labelFontSize": 46}}}},
        {"transform": [{"filter": "datum.de != null"}], "mark": {"type": "rule", "color": "#5aa2f5", "strokeWidth": 3.5},
         "encoding": {"x": {"field": "t", "type": "quantitative", "title": "Time"}, "y": {"field": "d", "type": "quantitative", "title": "The rate of beetle emergence/%"}, "y2": {"field": "de"}}},
        {"mark": {"type": "line", "strokeWidth": 7},
         "encoding": {"x": {"field": "t", "type": "quantitative", "title": "Time"}, "y": {"field": "d", "type": "quantitative", "title": "The rate of beetle emergence/%"},
           "color": {"datum": "Dark", "scale": {"domain": ["Dark", "Yellow light"], "range": ["#5aa2f5", "#ff6600"]},
             "legend": {"title": "Day 12", "legendX": 93, "legendY": 24, "titleFontSize": 48, "titlePadding": 205, "symbolSize": 4761, "labelFontSize": 46, "labelOffset": 39, "columnPadding": 63}}}},
        {"mark": {"type": "area", "color": "#fb8716", "opacity": 0.53},
         "encoding": {"x": {"field": "t", "type": "quantitative", "title": "Time"}, "y": {"field": "y", "type": "quantitative", "title": "The rate of beetle emergence/%"}}},
        {"transform": [{"filter": "datum.ye != null"}], "mark": {"type": "rule", "color": "#ff6600", "strokeWidth": 3.5},
         "encoding": {"x": {"field": "t", "type": "quantitative", "title": "Time"}, "y": {"field": "y", "type": "quantitative", "title": "The rate of beetle emergence/%"}, "y2": {"field": "ye"}}},
        {"mark": {"type": "line", "strokeWidth": 7},
         "encoding": {"x": {"field": "t", "type": "quantitative", "title": "Time"}, "y": {"field": "y", "type": "quantitative", "title": "The rate of beetle emergence/%"}, "color": {"datum": "Yellow light"}}},
        {"data": {"name": "Fdag"}, "mark": {"type": "text", "text": "†", "fontSize": 44, "font": "Liberation Serif", "baseline": "alphabetic", "dy": -6, "color": "black"},
         "encoding": {"x": {"field": "t", "type": "quantitative", "title": "Time"}, "y": {"field": "h", "type": "quantitative", "title": "The rate of beetle emergence/%"}}},
        {"data": {"values": [{"t": 13}, {"t": 41}]}, "mark": {"type": "rule", "color": "#2e2e2e", "strokeWidth": 5, "strokeDash": [10, 6]},
         "encoding": {"x": {"field": "t", "type": "quantitative", "title": "Time"}, "y": {"datum": 38.9, "title": "The rate of beetle emergence/%"}, "y2": {"datum": 0.4}}}
      ]
    }
  ]
}
